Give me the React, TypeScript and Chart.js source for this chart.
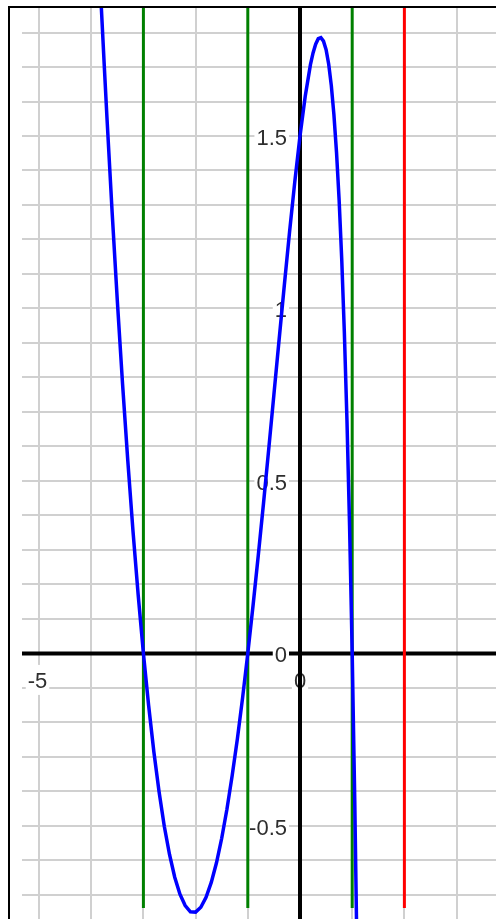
import React, { useEffect, useRef } from "react";
import { Chart, registerables } from "chart.js";

Chart.register(...registerables);

// Visible window of the graph (data units)
const X_MIN = -5.326;
const X_MAX = 3.755;
const Y_MIN = -0.77;
const Y_MAX = 1.874;
const GUIDE_BOTTOM = -0.738;

// Blue curve
const curveX = [
  -3.81, -3.75, -3.7, -3.6, -3.5, -3.4, -3.3, -3.2, -3.1, -3.0,
  -2.9, -2.8, -2.7, -2.6, -2.5, -2.4, -2.3, -2.2, -2.1, -2.0,
  -1.9, -1.8, -1.7, -1.6, -1.5, -1.4, -1.3, -1.2, -1.1, -1.0,
  -0.9, -0.8, -0.7, -0.6, -0.5, -0.4, -0.3, -0.2, -0.1, 0,
  0.1, 0.2, 0.25, 0.3, 0.35, 0.4, 0.45, 0.5, 0.55, 0.6, 0.65, 0.7, 0.75, 0.8,
  0.85, 0.9, 0.95, 1.0, 1.05, 1.1,
];
const curveY = [
  1.884, 1.704, 1.558, 1.281, 1.023, 0.782, 0.56, 0.355, 0.169, 0,
  -0.151, -0.285, -0.401, -0.501, -0.583, -0.649, -0.698, -0.731, -0.749, -0.75,
  -0.736, -0.707, -0.664, -0.607, -0.536, -0.452, -0.355, -0.248, -0.129, 0,
  0.138, 0.283, 0.434, 0.591, 0.75, 0.91, 1.068, 1.222, 1.367, 1.5,
  1.615, 1.707, 1.741, 1.766, 1.782, 1.785, 1.775, 1.75, 1.708, 1.646, 1.561, 1.452, 1.313, 1.14,
  0.929, 0.674, 0.367, 0, -0.437, -0.957,
];

// Vertical guide lines
const zeroCrossingsX = [-3, -1, 1];
const asymptoteX = [2];

// Tick labels drawn next to the axes
const yLabelValues = [1.5, 1, 0.5, 0, -0.5];
const xLabelValues = [-5, 0];

const X_STEP = 1;
const Y_STEP = 0.1;

export default function App() {
  const ref = useRef<HTMLCanvasElement>(null);

  useEffect(() => {
    const canvas = ref.current;
    if (!canvas) return;

    const labelPlugin = {
      id: "axisLabels",
      afterDatasetDraw(chart: any, args: any) {
        const ds = chart.data.datasets[args.index];
        if (ds.label !== "x-axis") return;
        const ctx = chart.ctx as CanvasRenderingContext2D;
        const xs = chart.scales.x;
        const ys = chart.scales.y;
        const x0 = xs.getPixelForValue(0);
        const y0 = ys.getPixelForValue(0);
        ctx.save();
        ctx.font = "22px 'Liberation Sans', Arial, sans-serif";
        ctx.textBaseline = "alphabetic";
        ctx.textAlign = "left";
        const draw = (text: string, anchorX: number, centerY: number, align: string) => {
          const w = ctx.measureText(text).width;
          const left = align === "right" ? anchorX - w : anchorX - w / 2;
          ctx.fillStyle = "#ffffff";
          ctx.fillRect(left - 2, centerY - 15, w + 4, 30);
          ctx.fillStyle = "#2e2e2e";
          ctx.fillText(text, left, centerY + 8);
        };
        yLabelValues.forEach((v) => {
          draw(String(v), x0 - 13, ys.getPixelForValue(v) + 1, "right");
        });
        xLabelValues.forEach((v) => {
          const px = xs.getPixelForValue(v) - (v === 0 ? 0 : 1.5);
          draw(String(v), px, y0 + 26.5, "center");
        });
        ctx.restore();
      },
    };

    const lineDefaults = {
      showLine: true,
      pointRadius: 0,
      pointHoverRadius: 0,
      fill: false,
      tension: 0,
    };

    const chart = new Chart(canvas, {
      type: "scatter",
      data: {
        datasets: [
          {
            ...lineDefaults,
            label: "curve",
            data: curveX.map((x, i) => ({ x, y: curveY[i] })),
            borderColor: "#0000ff",
            borderWidth: 3.5,
            order: 0,
          },
          ...zeroCrossingsX.map((x) => ({
            ...lineDefaults,
            label: "zero",
            data: [
              { x, y: GUIDE_BOTTOM },
              { x, y: Y_MAX },
            ],
            borderColor: "#008000",
            borderWidth: 3,
            order: 1,
          })),
          ...asymptoteX.map((x) => ({
            ...lineDefaults,
            label: "asymptote",
            data: [
              { x, y: GUIDE_BOTTOM },
              { x, y: Y_MAX },
            ],
            borderColor: "#ff0000",
            borderWidth: 3,
            order: 1,
          })),
          {
            ...lineDefaults,
            label: "y-axis",
            data: [
              { x: 0, y: Y_MIN },
              { x: 0, y: Y_MAX },
            ],
            borderColor: "#000000",
            borderWidth: 4,
            order: 2,
          },
          {
            ...lineDefaults,
            label: "x-axis",
            data: [
              { x: X_MIN, y: 0 },
              { x: X_MAX, y: 0 },
            ],
            borderColor: "#000000",
            borderWidth: 4,
            order: 3,
          },
        ] as any,
      },
      options: {
        responsive: false,
        animation: false,
        devicePixelRatio: 1,
        layout: { padding: { left: 22, top: 7, right: 0, bottom: 0 } },
        plugins: {
          legend: { display: false },
          tooltip: { enabled: false },
        },
        events: [],
        scales: {
          x: {
            type: "linear",
            min: X_MIN,
            max: X_MAX,
            ticks: { display: false, stepSize: X_STEP, includeBounds: false, autoSkip: false },
            grid: { color: "#d0d0d0", lineWidth: 2, drawTicks: false },
            border: { display: false },
            afterFit: (s: any) => {
              s.height = 0;
            },
          },
          y: {
            type: "linear",
            min: Y_MIN,
            max: Y_MAX,
            ticks: { display: false, stepSize: Y_STEP, includeBounds: false, autoSkip: false },
            grid: { color: "#d0d0d0", lineWidth: 2, drawTicks: false },
            border: { display: false },
            afterFit: (s: any) => {
              s.width = 0;
            },
          },
        },
      } as any,
      plugins: [labelPlugin],
    });

    return () => chart.destroy();
  }, []);

  return (
    <div style={{ position: "absolute", left: 0, top: 0, width: 496, height: 919, background: "#fff" }}>
      <canvas
        ref={ref}
        width={496}
        height={919}
        style={{ position: "absolute", left: 0, top: 0, display: "block" }}
      />
      <div
        style={{
          position: "absolute",
          left: 8,
          top: 6,
          width: 488,
          height: 913,
          boxSizing: "border-box",
          borderTop: "2px solid #000",
          borderLeft: "2px solid #000",
          pointerEvents: "none",
        }}
      />
    </div>
  );
}
